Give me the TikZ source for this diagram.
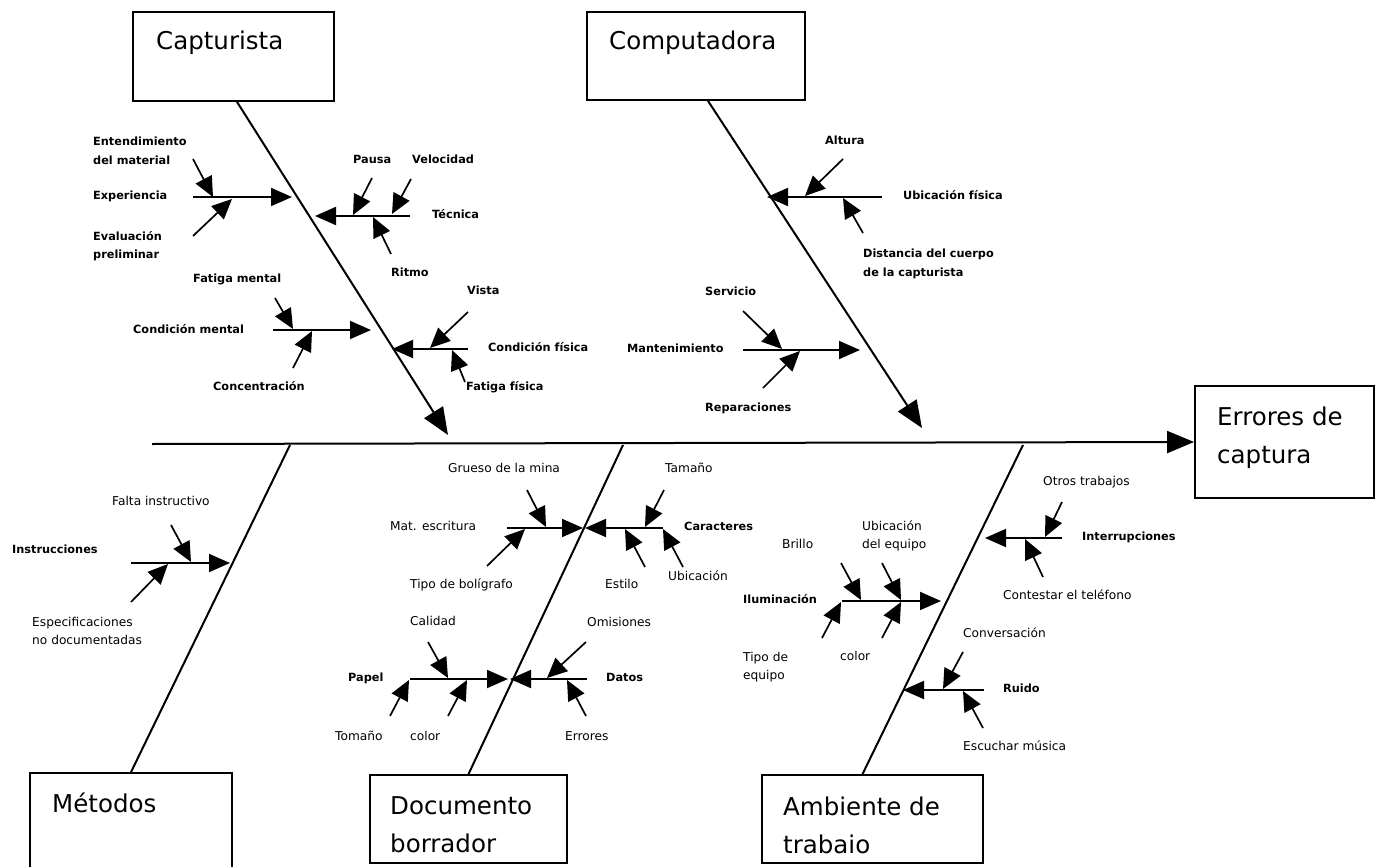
\documentclass[tikz,border=0pt]{standalone}
\usepackage{fontspec}
\setmainfont{DejaVu Sans}
\usetikzlibrary{arrows.meta,calc}
\begin{document}
\begin{tikzpicture}[x=1pt,y=-1pt,
  bone/.style={line width=2pt},
  bonearr/.style={line width=2pt,-{Triangle[length=27pt,width=22pt]}},
  subarr/.style={line width=1.9pt,-{Triangle[length=21pt,width=18pt]}},
  cause/.style={line width=1.7pt,-{Triangle[length=20pt,width=18pt]}},
  box/.style={draw,line width=1.8pt,inner sep=0pt},
  big/.style={font=\fontsize{24.5}{38}\selectfont,inner sep=0pt,anchor=west,align=left},
  lab/.style={font=\fontsize{12.2}{18}\selectfont,inner sep=0pt,anchor=west,text height=0.75em,text depth=0.25em},
  labb/.style={lab,font=\bfseries\fontsize{11.3}{18}\selectfont},
  labtwo/.style={font=\fontsize{12.2}{18.5}\selectfont,inner sep=0pt,anchor=west,align=left},
  labtwob/.style={labtwo,font=\bfseries\fontsize{11.3}{18.5}\selectfont},
]
\clip (0,0) rectangle (1379,867);
\useasboundingbox (0,0) rectangle (1379,867);

% ---------- boxes ----------
\node[box,minimum width=201,minimum height=89] (cap) at (233.5,56.5) {};
\node[big] (capT) at (156,43) {Capturista};
\node[box,minimum width=218,minimum height=88] (comp) at (696,56) {};
\node[big] (compT) at (609,43) {Computadora};
\node[box,minimum width=179,minimum height=112] (err) at (1284.5,442) {};
\node[big] (errT) at (1217,438) {Errores de\\captura};
\node[box,minimum width=202,minimum height=130] (met) at (131,838) {};
\node[big] (metT) at (52,803) {Métodos};
\node[box,minimum width=197,minimum height=88] (doc) at (468.5,819) {};
\node[big] (docT) at (390,825) {Documento\\borrador};
\node[box,minimum width=221,minimum height=88] (amb) at (872.5,819) {};
\node[big] (ambT) at (783,825) {Ambiente de\\trabaio};

% ---------- spine and bones ----------
\coordinate (spS) at (152,444);
\draw[bonearr] (spS) -- (err.west);
\coordinate (capTip) at (448,435);
\draw[bonearr] ($(cap.south)+(3.5,0)$) -- (capTip);
\coordinate (compTip) at (922,428);
\draw[bonearr] ($(comp.south)+(12,0)$) -- (compTip);
\coordinate (metS) at (290,445);
\draw[bone] (metS) -- (met.north);
\coordinate (docS) at (623,445);
\draw[bone] (docS) -- (doc.north);
\coordinate (ambS) at (1023,445);
\draw[bone] (ambS) -- ($(amb.north)+(-10,0)$);

% ---------- labels ----------
\node[labtwob] (lEnt) at (93,151) {Entendimiento\\del material};
\node[labb] (lExp) at (93,197) {Experiencia};
\node[labtwob] (lEva) at (93,246) {Evaluación\\preliminar};
\node[labb] (lPau) at (353,161) {Pausa};
\node[labb] (lVel) at (412,161) {Velocidad};
\node[labb] (lTec) at (432,216) {Técnica};
\node[labb] (lRit) at (391,274) {Ritmo};
\node[labb] (lFme) at (193,280) {Fatiga mental};
\node[labb] (lCme) at (133,331) {Condición mental};
\node[labb] (lCon) at (213,388) {Concentración};
\node[labb] (lVis) at (467,292) {Vista};
\node[labb] (lCfi) at (488,349) {Condición física};
\node[labb] (lFfi) at (466,388) {Fatiga física};

\node[labb] (lAlt) at (825,142) {Altura};
\node[labb] (lUfi) at (903,197) {Ubicación física};
\node[labtwob] (lDis) at (863,264) {Distancia del cuerpo\\de la capturista};
\node[labb] (lSer) at (705,293) {Servicio};
\node[labb] (lMan) at (627,350) {Mantenimiento};
\node[labb] (lRep) at (705,409) {Reparaciones};

\node[lab] (lFal) at (112,503) {Falta instructivo};
\node[labb] (lIns) at (12,551) {Instrucciones};
\node[labtwo] (lEsp) at (32,631) {Especificaciones\\no documentadas};

\node[lab] (lGru) at (448,470) {Grueso de la mina};
\node[lab] (lMat) at (390,528) {Mat. escritura};
\node[lab] (lTip) at (410,586) {Tipo de bolígrafo};
\node[lab] (lTam) at (665,470) {Tamaño};
\node[labb] (lCar) at (684,528) {Caracteres};
\node[lab] (lEst) at (605,586) {Estilo};
\node[lab] (lUbi) at (668,578) {Ubicación};
\node[lab] (lCal) at (410,623) {Calidad};
\node[labb] (lPap) at (348,679) {Papel};
\node[lab] (lTom) at (335,738) {Tomaño};
\node[lab] (lCol) at (410,738) {color};
\node[lab] (lOmi) at (587,624) {Omisiones};
\node[labb] (lDat) at (606,679) {Datos};
\node[lab] (lErr) at (565,738) {Errores};

\node[lab] (lOtr) at (1043,483) {Otros trabajos};
\node[labb] (lInt) at (1082,538) {Interrupciones};
\node[lab] (lCte) at (1003,597) {Contestar el teléfono};
\node[lab] (lBri) at (782,546) {Brillo};
\node[labtwo] (lUeq) at (862,536) {Ubicación\\del equipo};
\node[labb] (lIlu) at (743,601) {Iluminación};
\node[labtwo] (lTeq) at (743,667) {Tipo de\\equipo};
\node[lab] (lCo2) at (840,658) {color};
\node[lab] (lCnv) at (963,635) {Conversación};
\node[labb] (lRui) at (1003,690) {Ruido};
\node[lab] (lEsc) at (963,748) {Escuchar música};

% ---------- sub-branches ----------
\coordinate (bExpS) at (193,197); \coordinate (bExpT) at (292,197);
\coordinate (bTecS) at (410,216); \coordinate (bTecT) at (315,216);
\coordinate (bCmeS) at (273,330); \coordinate (bCmeT) at (371,330);
\coordinate (bCfiS) at (468,349); \coordinate (bCfiT) at (392,349);
\coordinate (bUfiS) at (882,197); \coordinate (bUfiT) at (767,197);
\coordinate (bManS) at (743,350); \coordinate (bManT) at (860,350);
\coordinate (bInsS) at (131,563); \coordinate (bInsT) at (230,563);
\coordinate (bMatS) at (507,528); \coordinate (bMatT) at (583,528);
\coordinate (bCarS) at (663,528); \coordinate (bCarT) at (585,528);
\coordinate (bPapS) at (410,679); \coordinate (bPapT) at (508,679);
\coordinate (bDatS) at (587,679); \coordinate (bDatT) at (510,679);
\coordinate (bIntS) at (1062,538); \coordinate (bIntT) at (985,538);
\coordinate (bIluS) at (842,601); \coordinate (bIluT) at (941,601);
\coordinate (bRuiS) at (984,690); \coordinate (bRuiT) at (903,690);
\foreach \b in {Exp,Tec,Cme,Cfi,Ufi,Man,Ins,Mat,Car,Pap,Dat,Int,Ilu,Rui}
  \draw[subarr] (b\b S) -- (b\b T);

% ---------- causes ----------
\coordinate (cEntS) at (193,159); \coordinate (cEntT) at (213,197);
\coordinate (cEvaS) at (193,236); \coordinate (cEvaT) at (232,199);
\coordinate (cPauS) at (372,178); \coordinate (cPauT) at (353,215);
\coordinate (cVelS) at (411,179); \coordinate (cVelT) at (392,214);
\coordinate (cRitS) at (391,254); \coordinate (cRitT) at (373,217);
\coordinate (cFmeS) at (275,298); \coordinate (cFmeT) at (293,329);
\coordinate (cConS) at (293,368); \coordinate (cConT) at (312,331);
\coordinate (cVisS) at (468,312); \coordinate (cVisT) at (430,348);
\coordinate (cFfiS) at (465,382); \coordinate (cFfiT) at (452,350);
\coordinate (cAltS) at (843,159); \coordinate (cAltT) at (805,196);
\coordinate (cDisS) at (863,233); \coordinate (cDisT) at (843,198);
\coordinate (cSerS) at (743,311); \coordinate (cSerT) at (782,349);
\coordinate (cRepS) at (763,388); \coordinate (cRepT) at (800,351);
\coordinate (cFalS) at (171,525); \coordinate (cFalT) at (191,562);
\coordinate (cEspS) at (131,602); \coordinate (cEspT) at (168,564);
\coordinate (cGruS) at (527,490); \coordinate (cGruT) at (546,527);
\coordinate (cTipS) at (487,566); \coordinate (cTipT) at (525,529);
\coordinate (cTamS) at (664,490); \coordinate (cTamT) at (645,527);
\coordinate (cEstS) at (645,567); \coordinate (cEstT) at (625,529);
\coordinate (cUbiS) at (683,567); \coordinate (cUbiT) at (663,529);
\coordinate (cCalS) at (428,642); \coordinate (cCalT) at (448,678);
\coordinate (cTomS) at (390,716); \coordinate (cTomT) at (409,680);
\coordinate (cColS) at (448,716); \coordinate (cColT) at (467,680);
\coordinate (cOmiS) at (586,642); \coordinate (cOmiT) at (547,678);
\coordinate (cErrS) at (586,716); \coordinate (cErrT) at (567,680);
\coordinate (cOtrS) at (1062,502); \coordinate (cOtrT) at (1045,537);
\coordinate (cCteS) at (1043,577); \coordinate (cCteT) at (1025,539);
\coordinate (cBriS) at (841,563); \coordinate (cBriT) at (861,600);
\coordinate (cUeqS) at (882,563); \coordinate (cUeqT) at (901,600);
\coordinate (cTeqS) at (822,638); \coordinate (cTeqT) at (841,602);
\coordinate (cCo2S) at (882,638); \coordinate (cCo2T) at (901,602);
\coordinate (cCnvS) at (963,652); \coordinate (cCnvT) at (943,689);
\coordinate (cEscS) at (983,728); \coordinate (cEscT) at (963,691);
\foreach \c in {Ent,Eva,Pau,Vel,Rit,Fme,Con,Vis,Ffi,Alt,Dis,Ser,Rep,Fal,Esp,Gru,Tip,Tam,Est,Ubi,Cal,Tom,Col,Omi,Err,Otr,Cte,Bri,Ueq,Teq,Co2,Cnv,Esc}
  \draw[cause] (c\c S) -- (c\c T);
\end{tikzpicture}
\end{document}
